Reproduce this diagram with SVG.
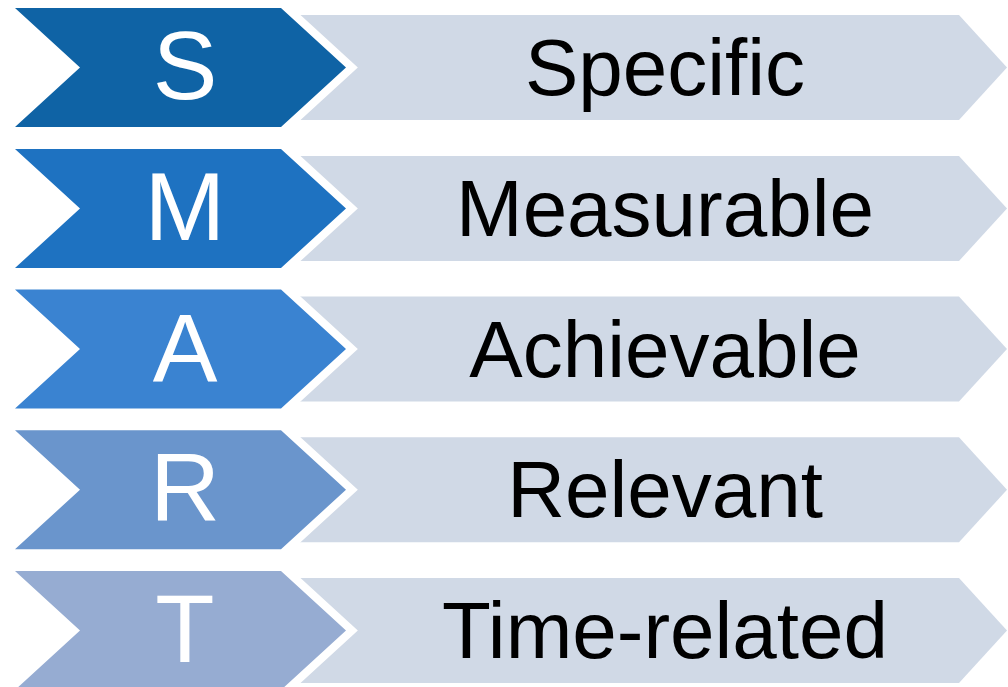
<svg xmlns="http://www.w3.org/2000/svg" width="1008" height="687" viewBox="0 0 1008 687">
<style>
.bar{fill:#D0D9E6}
.chev{stroke:#FFFFFF;stroke-width:16;stroke-linejoin:miter;paint-order:stroke}
.letter{font-family:"Liberation Sans",Arial,sans-serif;font-size:97px;fill:#FFFFFF;text-anchor:middle}
.word{font-family:"Liberation Sans",Arial,sans-serif;font-size:80px;fill:#000000;text-anchor:middle}
</style>
<defs>
<polygon id="barShape" points="300,7 959,7 1007,59.5 959,112 300,112"/>
<polygon id="chevShape" points="15,0 281,0 346,59.5 281,119 15,119 80,59.5"/>
</defs>
<rect width="1008" height="687" fill="#FFFFFF"/>
<g id="connectors"></g>
<g id="row-S" transform="translate(0,8)">
<use href="#barShape" class="bar"/>
<use href="#chevShape" class="chev" fill="#0F63A5"/>
<text class="letter" x="185" y="91">S</text>
<text class="word" x="665" y="87">Specific</text>
</g>
<g id="row-M" transform="translate(0,149)">
<use href="#barShape" class="bar"/>
<use href="#chevShape" class="chev" fill="#1E72C1"/>
<text class="letter" x="185" y="91">M</text>
<text class="word" x="665" y="87">Measurable</text>
</g>
<g id="row-A" transform="translate(0,289.5)">
<use href="#barShape" class="bar"/>
<use href="#chevShape" class="chev" fill="#3A83D1"/>
<text class="letter" x="185" y="91">A</text>
<text class="word" x="665" y="87">Achievable</text>
</g>
<g id="row-R" transform="translate(0,430.25)">
<use href="#barShape" class="bar"/>
<use href="#chevShape" class="chev" fill="#6A95CC"/>
<text class="letter" x="185" y="91">R</text>
<text class="word" x="665" y="87">Relevant</text>
</g>
<g id="row-T" transform="translate(0,571)">
<use href="#barShape" class="bar"/>
<use href="#chevShape" class="chev" fill="#96ACD2"/>
<text class="letter" x="185" y="91">T</text>
<text class="word" x="665" y="87">Time-related</text>
</g>
</svg>
